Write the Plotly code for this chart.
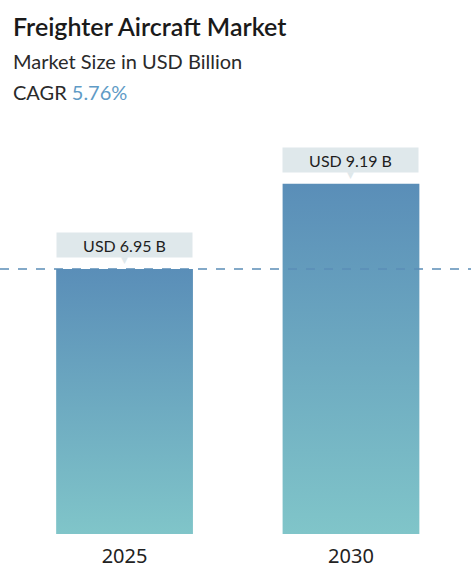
import plotly.graph_objects as go

# Chart data
years = ["2025", "2030"]
values = [6.95, 9.19]
value_labels = ["USD 6.95 B", "USD 9.19 B"]
cagr = "5.76%"

bar_half = 0.302  # half bar width in category units
top_color = "#5a8eb8"
bottom_color = "#80c5c9"
box_color = "#dfe8eb"

fig = go.Figure()

# Each bar is a filled shape so it can carry a vertical gradient
for i, v in enumerate(values):
    fig.add_trace(go.Scatter(x=[i - bar_half, i + bar_half, i + bar_half, i - bar_half, i - bar_half],
                             y=[0, 0, v, v, 0],
                             mode='lines',
                             fill='toself',
                             fillgradient=dict(type="vertical",
                                               colorscale=[[0, bottom_color], [1, top_color]]),
                             line=dict(width=0),
                             hoverinfo='skip',
                             showlegend=False
                             ))

fig.update_layout(
    width=471,
    height=576,
    margin=dict(l=0, r=0, t=130, b=42),
    paper_bgcolor="white",
    plot_bgcolor="white",
    showlegend=False,
    xaxis=dict(range=[-0.55, 1.53], tickvals=[0, 1], ticktext=years,
               showgrid=False, zeroline=False, showline=False, ticks="",
               ticklabelstandoff=8,
               tickfont=dict(family="Noto Sans", size=20, color="#222222"),
               fixedrange=True),
    yaxis=dict(range=[0, 10.6], showgrid=False, zeroline=False, showline=False,
               showticklabels=False, fixedrange=True),
)

# Header texts in pixel-ish paper positions
plot_h = 576 - 130 - 42
def py(pix):
    return (534 - pix) / plot_h

# Value callouts above the bars
for i, v in enumerate(values):
    fig.add_annotation(x=i, y=v, xref="x", yref="y",
                       text=value_labels[i], showarrow=False,
                       yshift=24, bgcolor=box_color,
                       width=131, height=20, borderpad=2,
                       font=dict(family="Lato", size=16, color="#1e1e1e"))
    fig.add_annotation(x=i, y=v, xref="x", yref="y",
                       text="▼", showarrow=False,
                       yshift=9,
                       font=dict(family="DejaVu Sans", size=9, color=box_color))

fig.add_annotation(x=11 / 471, y=py(26), xref="paper", yref="paper",
                   text="Freighter Aircraft Market", showarrow=False,
                   xanchor="left", yanchor="middle",
                   font=dict(family="Lato", size=25, weight=600, color="#1a1a1a"))
fig.add_annotation(x=11 / 471, y=py(61), xref="paper", yref="paper",
                   text="Market Size in USD Billion", showarrow=False,
                   xanchor="left", yanchor="middle",
                   font=dict(family="Lato", size=20, color="#2a2a2a"))
fig.add_annotation(x=11 / 471, y=py(92), xref="paper", yref="paper",
                   text="CAGR <span style='color:#5f9bc6'>" + cagr + "</span>", showarrow=False,
                   xanchor="left", yanchor="middle",
                   font=dict(family="Lato", size=20, color="#2a2a2a"))

# Dashed reference line at the first year's value
fig.add_shape(type="line", xref="paper", x0=0, x1=1, yref="y", y0=values[0], y1=values[0],
              line=dict(color="#5b8db6", width=1.5, dash="dash"), layer="above")

fig.write_html("out.html", config={"displayModeBar": False},
               post_script="document.body.style.margin='0';")
